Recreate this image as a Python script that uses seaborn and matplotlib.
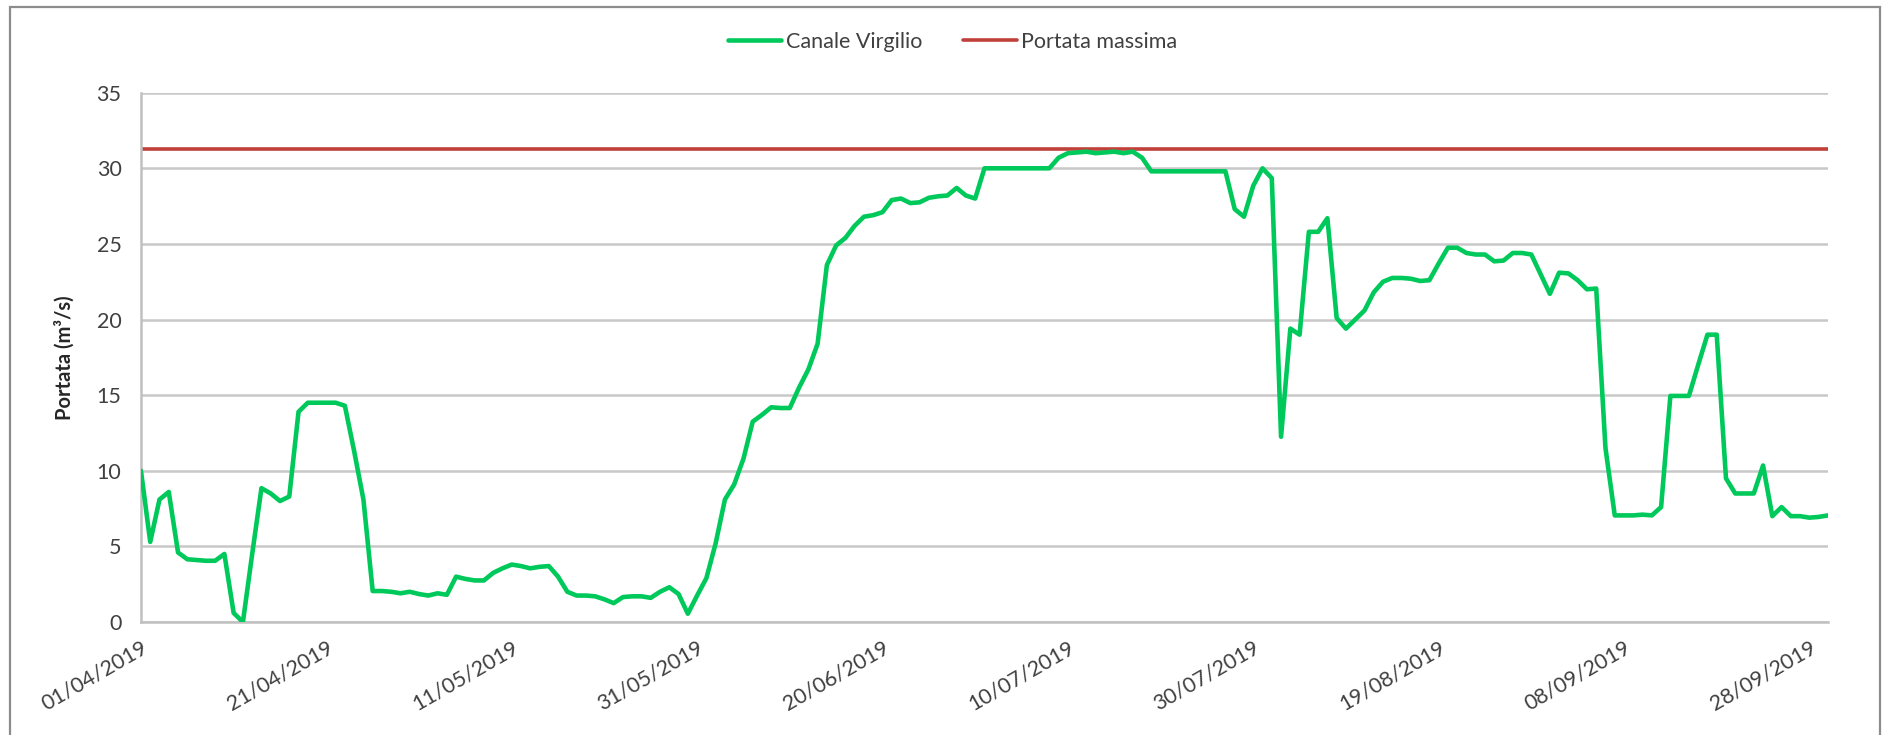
import pandas as pd
import numpy as np
import matplotlib
matplotlib.use("Agg")
import matplotlib.pyplot as plt
import matplotlib.dates as mdates
import seaborn as sns

# Daily flow of Canale Virgilio, 01/04/2019 - 30/09/2019
start_date = "2019-04-01"
end_date = "2019-09-30"
portata = [
    10.0, 5.3, 8.1, 8.6, 4.6, 4.15, 4.1, 4.05, 4.05, 4.5,
    0.6, 0.0, 4.5, 8.85, 8.5, 8.0, 8.3, 13.9, 14.5, 14.5,
    14.5, 14.5, 14.3, 11.3, 8.1, 2.05, 2.05, 2.0, 1.9, 2.0,
    1.85, 1.75, 1.9, 1.8, 3.0, 2.85, 2.75, 2.75, 3.25, 3.55,
    3.8, 3.7, 3.55, 3.65, 3.7, 3.0, 2.0, 1.75, 1.75, 1.7,
    1.5, 1.25, 1.65, 1.7, 1.7, 1.6, 2.0, 2.3, 1.85, 0.55,
    1.75, 2.9, 5.2, 8.1, 9.1, 10.8, 13.25, 13.7, 14.2, 14.15,
    14.15, 15.5, 16.7, 18.4, 23.6, 24.9, 25.4, 26.2, 26.8, 26.9,
    27.1, 27.9, 28.0, 27.7, 27.75, 28.05, 28.15, 28.2, 28.7, 28.2,
    28.0, 30.0, 30.0, 30.0, 30.0, 30.0, 30.0, 30.0, 30.0, 30.7,
    31.0, 31.05, 31.1, 31.0, 31.05, 31.1, 31.0, 31.1, 30.7, 29.8,
    29.8, 29.8, 29.8, 29.8, 29.8, 29.8, 29.8, 29.8, 27.3, 26.8,
    28.85, 30.0, 29.35, 12.25, 19.4, 19.0, 25.8, 25.8, 26.7, 20.1,
    19.4, 20.0, 20.6, 21.8, 22.5, 22.75, 22.75, 22.7, 22.55, 22.6,
    23.7, 24.75, 24.75, 24.4, 24.3, 24.3, 23.85, 23.9, 24.4, 24.4,
    24.3, 23.0, 21.7, 23.1, 23.05, 22.6, 22.0, 22.05, 11.5, 7.05,
    7.05, 7.05, 7.1, 7.05, 7.6, 14.95, 14.95, 14.95, 17.0, 19.0,
    19.0, 9.5, 8.5, 8.5, 8.5, 10.35, 7.0, 7.6, 7.0, 7.0,
    6.9, 6.95, 7.05,
]
portata_massima = 31.3
y_ticks = [0, 5, 10, 15, 20, 25, 30, 35]

dates = pd.date_range(start_date, end_date, freq="D")
df = pd.DataFrame({
    "Data": dates,
    "Canale Virgilio": portata,
    "Portata massima": [portata_massima] * len(dates),
})

sns.set_style("white")
plt.rcParams["font.family"] = ["Lato", "DejaVu Sans"]

fig = plt.figure(figsize=(18.87, 7.35), dpi=100)
ax = fig.add_axes([0.0747, 0.1537, 0.8940, 0.7202])

sns.lineplot(data=df, x="Data", y="Canale Virgilio", ax=ax,
             color="#00c95b", linewidth=3.3, label="Canale Virgilio", zorder=3)
sns.lineplot(data=df, x="Data", y="Portata massima", ax=ax,
             color="#c0403a", linewidth=2.6, label="Portata massima", zorder=2)

ax.set_ylim(0, 35)
ax.set_yticks(y_ticks)
ax.set_xlim(dates[0], dates[-1])
ax.set_xticks(pd.date_range(start_date, end_date, freq="20D"))
ax.xaxis.set_major_formatter(mdates.DateFormatter("%d/%m/%Y"))

ax.grid(axis="y", color="#c8c8c8", linewidth=1.8)
ax.set_axisbelow(True)
for side in ["top", "right"]:
    ax.spines[side].set_visible(False)
for side in ["left", "bottom"]:
    ax.spines[side].set_color("#c0c0c0")
    ax.spines[side].set_linewidth(1.8)

ax.tick_params(axis="y", length=9, width=1.8, color="#c0c0c0",
               labelsize=15.5, labelcolor="#404040", pad=5)
ax.tick_params(axis="x", length=7, width=1.5, color="#c0c0c0",
               labelsize=15.5, labelcolor="#404040", pad=4)
plt.setp(ax.get_xticklabels(), rotation=30, ha="right", rotation_mode="anchor")

ax.set_xlabel("")
ax.set_ylabel("Portata (m³/s)", fontsize=14.5, fontweight="bold", labelpad=16)

leg = ax.legend(loc="center", bbox_to_anchor=(0.481, 1.096), ncol=2, frameon=False,
                fontsize=15.5, handlelength=2.5, handletextpad=0.2, columnspacing=1.9)
for t in leg.get_texts():
    t.set_color("#404040")

# outer chart border as in the spreadsheet export
border = plt.Rectangle((10 / 1887, -0.02), 1870 / 1887, 1.0 - 6.5 / 735 + 0.02,
                       transform=fig.transFigure, fill=False,
                       edgecolor="#8c8c8c", linewidth=1.6)
fig.patches.append(border)

fig.savefig("out.png", dpi=100)
